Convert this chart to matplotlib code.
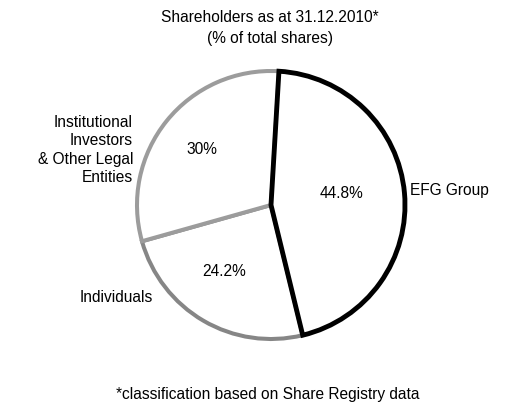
import matplotlib.pyplot as plt

# Data
labels = ['EFG Group', 'Individuals', 'Institutional\nInvestors\n& Other Legal\nEntities']
shares = [44.8, 24.2, 30.0]
pct_labels = ['44.8%', '24.2%', '30%']
edge_colors = ['#000000', '#868686', '#9c9c9c']

plt.rcParams['font.family'] = ['Liberation Sans', 'DejaVu Sans']

W, H = 531, 408
fig = plt.figure(figsize=(W / 100, H / 100), dpi=100)
ax = fig.add_axes([0, 0, 1, 1])

cx, cy, r = 271, H - 205, 134

wedges, _ = ax.pie(shares, startangle=86.6, counterclock=False, center=(cx, cy),
                   radius=r, colors=['white'] * 3, frame=True)
ax.set_xlim(0, W)
ax.set_ylim(0, H)
ax.set_aspect('equal')
ax.axis('off')
for w, ec, z in zip(wedges, edge_colors, [3, 1, 2]):
    w.set_edgecolor(ec)
    w.set_linewidth(3.5 if ec == '#000000' else 2.9)
    w.set_joinstyle('miter')
    w.set_zorder(z)

fs = 11.2
# percentage labels
pct_pos = [(341, 194), (224, 272), (202, 150)]
for t, (x, y) in zip(pct_labels, pct_pos):
    ax.text(x, H - y, t, ha='center', va='center', fontsize=fs, zorder=5)

# category labels
ax.text(410, H - 191, labels[0], ha='left', va='center', fontsize=fs)
ax.text(116, H - 298, labels[1], ha='center', va='center', fontsize=fs)
ax.text(133, H - 150, labels[2], ha='right', va='center', fontsize=fs,
        multialignment='right', linespacing=1.28)

ax.text(270, H - 28, 'Shareholders as at 31.12.2010*\n(% of total shares)',
        ha='center', va='center', fontsize=fs, linespacing=1.45)
ax.text(268, H - 394, '*classification based on Share Registry data',
        ha='center', va='center', fontsize=fs)

plt.savefig('out.png', dpi=100)
